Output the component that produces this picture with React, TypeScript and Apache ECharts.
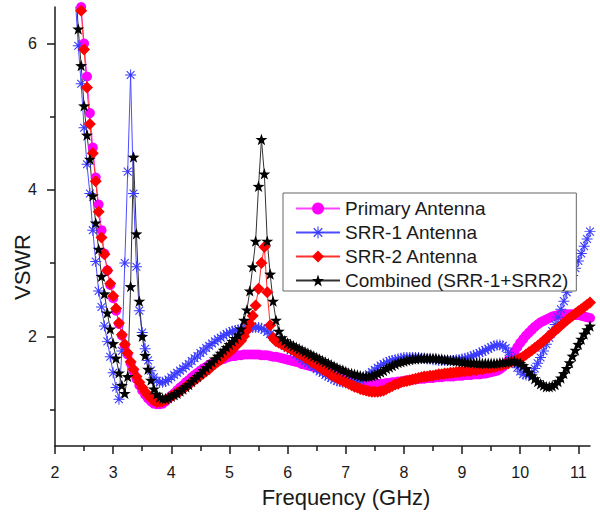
import React, { useEffect, useRef } from "react";
import * as echarts from "echarts";

const freq = [
  2.35, 2.4, 2.45, 2.5, 2.55, 2.6, 2.65, 2.7, 2.75, 2.8,
  2.85, 2.9, 2.95, 3, 3.05, 3.1, 3.15, 3.2, 3.25, 3.3,
  3.35, 3.4, 3.45, 3.5, 3.55, 3.6, 3.65, 3.7, 3.75, 3.8,
  3.85, 3.9, 3.95, 4, 4.05, 4.1, 4.15, 4.2, 4.25, 4.3,
  4.35, 4.4, 4.45, 4.5, 4.55, 4.6, 4.65, 4.7, 4.75, 4.8,
  4.85, 4.9, 4.95, 5, 5.05, 5.1, 5.15, 5.2, 5.25, 5.3,
  5.35, 5.4, 5.45, 5.5, 5.55, 5.6, 5.65, 5.7, 5.75, 5.8,
  5.85, 5.9, 5.95, 6, 6.05, 6.1, 6.15, 6.2, 6.25, 6.3,
  6.35, 6.4, 6.45, 6.5, 6.55, 6.6, 6.65, 6.7, 6.75, 6.8,
  6.85, 6.9, 6.95, 7, 7.05, 7.1, 7.15, 7.2, 7.25, 7.3,
  7.35, 7.4, 7.45, 7.5, 7.55, 7.6, 7.65, 7.7, 7.75, 7.8,
  7.85, 7.9, 7.95, 8, 8.05, 8.1, 8.15, 8.2, 8.25, 8.3,
  8.35, 8.4, 8.45, 8.5, 8.55, 8.6, 8.65, 8.7, 8.75, 8.8,
  8.85, 8.9, 8.95, 9, 9.05, 9.1, 9.15, 9.2, 9.25, 9.3,
  9.35, 9.4, 9.45, 9.5, 9.55, 9.6, 9.65, 9.7, 9.75, 9.8,
  9.85, 9.9, 9.95, 10, 10.05, 10.1, 10.15, 10.2, 10.25, 10.3,
  10.35, 10.4, 10.45, 10.5, 10.55, 10.6, 10.65, 10.7, 10.75, 10.8,
  10.85, 10.9, 10.95, 11, 11.05, 11.1, 11.15, 11.2,
];

const primaryAntenna = [
  7.5, 7.0, 6.5, 6.0, 5.55, 5.05, 4.58, 4.17, 3.8, 3.45,
  3.13, 2.9, 2.7, 2.52, 2.35, 2.17, 2.01, 1.87, 1.75, 1.63,
  1.52, 1.42, 1.33, 1.26, 1.2, 1.15, 1.11, 1.08, 1.07, 1.07,
  1.08, 1.11, 1.15, 1.19, 1.22, 1.26, 1.3, 1.33, 1.37, 1.4,
  1.44, 1.47, 1.5, 1.53, 1.56, 1.58, 1.61, 1.63, 1.65, 1.67,
  1.68, 1.69, 1.71, 1.72, 1.73, 1.73, 1.74, 1.74, 1.75, 1.75,
  1.75, 1.75, 1.75, 1.75, 1.74, 1.74, 1.74, 1.73, 1.72, 1.72,
  1.71, 1.7, 1.69, 1.68, 1.67, 1.66, 1.65, 1.64, 1.62, 1.61,
  1.6, 1.59, 1.58, 1.57, 1.56, 1.55, 1.54, 1.52, 1.51, 1.5,
  1.49, 1.47, 1.46, 1.45, 1.44, 1.42, 1.41, 1.4, 1.39, 1.38,
  1.37, 1.36, 1.36, 1.35, 1.35, 1.35, 1.35, 1.36, 1.36, 1.37,
  1.37, 1.38, 1.38, 1.39, 1.4, 1.4, 1.41, 1.41, 1.42, 1.42,
  1.42, 1.43, 1.43, 1.43, 1.44, 1.44, 1.44, 1.45, 1.45, 1.45,
  1.45, 1.46, 1.46, 1.46, 1.47, 1.47, 1.47, 1.48, 1.48, 1.48,
  1.49, 1.49, 1.5, 1.51, 1.52, 1.53, 1.55, 1.58, 1.62, 1.67,
  1.73, 1.79, 1.85, 1.91, 1.96, 2.01, 2.05, 2.09, 2.13, 2.16,
  2.19, 2.21, 2.23, 2.25, 2.27, 2.28, 2.29, 2.3, 2.3, 2.3,
  2.3, 2.3, 2.29, 2.29, 2.28, 2.27, 2.26, 2.25,
];

const srr1Antenna = [
  6.6, 5.97, 5.45, 4.85, 4.35, 3.95, 3.45, 3.02, 2.62, 2.4,
  2.14, 1.93, 1.72, 1.5, 1.3, 1.14, 1.8, 3.0, 4.25, 5.57,
  3.95, 2.95, 2.35, 2.05, 1.83, 1.67, 1.53, 1.44, 1.39, 1.37,
  1.37, 1.38, 1.41, 1.44, 1.47, 1.5, 1.53, 1.56, 1.59, 1.62,
  1.66, 1.7, 1.73, 1.77, 1.8, 1.84, 1.87, 1.9, 1.93, 1.96,
  1.98, 2.01, 2.03, 2.05, 2.07, 2.08, 2.09, 2.1, 2.11, 2.12,
  2.12, 2.12, 2.12, 2.12, 2.11, 2.09, 2.06, 2.03, 1.99, 1.96,
  1.93, 1.9, 1.87, 1.84, 1.81, 1.78, 1.75, 1.72, 1.69, 1.66,
  1.63, 1.61, 1.58, 1.55, 1.52, 1.5, 1.47, 1.45, 1.43, 1.41,
  1.39, 1.38, 1.37, 1.36, 1.36, 1.36, 1.37, 1.38, 1.4, 1.42,
  1.45, 1.48, 1.51, 1.54, 1.57, 1.6, 1.62, 1.64, 1.66, 1.67,
  1.68, 1.69, 1.7, 1.71, 1.71, 1.71, 1.71, 1.71, 1.71, 1.7,
  1.7, 1.69, 1.69, 1.68, 1.68, 1.67, 1.67, 1.67, 1.67, 1.67,
  1.67, 1.68, 1.68, 1.69, 1.7, 1.71, 1.72, 1.74, 1.75, 1.77,
  1.79, 1.81, 1.83, 1.85, 1.87, 1.88, 1.88, 1.87, 1.84, 1.78,
  1.71, 1.64, 1.57, 1.52, 1.48, 1.47, 1.47, 1.5, 1.56, 1.63,
  1.71, 1.8, 1.89, 1.98, 2.07, 2.16, 2.26, 2.37, 2.48, 2.6,
  2.72, 2.83, 2.93, 3.03, 3.13, 3.23, 3.33, 3.43,
];

const srr2Antenna = [
  7.4, 6.9, 6.45, 5.92, 5.4, 4.9, 4.5, 4.12, 3.7, 3.35,
  3.12, 2.9, 2.72, 2.55, 2.38, 2.18, 2.02, 1.89, 1.77, 1.65,
  1.55, 1.45, 1.37, 1.3, 1.24, 1.19, 1.15, 1.12, 1.1, 1.1,
  1.11, 1.13, 1.15, 1.18, 1.2, 1.23, 1.25, 1.28, 1.31, 1.34,
  1.37, 1.4, 1.43, 1.46, 1.49, 1.52, 1.55, 1.59, 1.62, 1.65,
  1.68, 1.72, 1.75, 1.78, 1.82, 1.86, 1.9, 1.94, 2.0, 2.08,
  2.17, 2.28, 2.42, 2.65, 3.0, 3.22, 2.6, 2.15, 1.98, 1.93,
  1.91, 1.89, 1.87, 1.85, 1.83, 1.81, 1.78, 1.76, 1.74, 1.71,
  1.69, 1.66, 1.63, 1.61, 1.58, 1.55, 1.53, 1.5, 1.47, 1.45,
  1.43, 1.41, 1.39, 1.37, 1.35, 1.33, 1.31, 1.3, 1.28, 1.27,
  1.26, 1.25, 1.24, 1.24, 1.24, 1.25, 1.26, 1.28, 1.3, 1.32,
  1.34, 1.35, 1.37, 1.38, 1.39, 1.4, 1.41, 1.42, 1.43, 1.44,
  1.45, 1.45, 1.46, 1.46, 1.47, 1.48, 1.48, 1.49, 1.49, 1.5,
  1.5, 1.51, 1.51, 1.52, 1.52, 1.53, 1.53, 1.54, 1.54, 1.55,
  1.55, 1.56, 1.57, 1.57, 1.58, 1.59, 1.6, 1.61, 1.62, 1.63,
  1.65, 1.66, 1.68, 1.7, 1.72, 1.75, 1.78, 1.81, 1.84, 1.87,
  1.9, 1.94, 1.97, 2.01, 2.04, 2.08, 2.11, 2.15, 2.18, 2.22,
  2.25, 2.28, 2.31, 2.34, 2.37, 2.4, 2.43, 2.46,
];

const combined = [
  6.9, 6.2, 5.7, 5.15, 4.75, 4.42, 3.92, 3.55, 3.19, 2.82,
  2.58, 2.32, 2.1, 1.9, 1.7, 1.5, 1.33, 1.22, 1.45, 2.68,
  4.45, 3.4, 2.48, 2.0, 1.74, 1.55, 1.4, 1.28, 1.21, 1.17,
  1.15, 1.15, 1.16, 1.18, 1.2, 1.22, 1.25, 1.28, 1.31, 1.34,
  1.38, 1.42, 1.45, 1.49, 1.53, 1.57, 1.61, 1.65, 1.69, 1.73,
  1.77, 1.81, 1.85, 1.89, 1.93, 1.97, 2.02, 2.1, 2.22, 2.36,
  2.62, 2.95, 3.3, 4.05, 4.69, 4.22, 3.3, 2.85, 2.48, 2.22,
  2.07, 1.98, 1.94, 1.91, 1.89, 1.87, 1.85, 1.83, 1.81, 1.79,
  1.77, 1.75, 1.73, 1.71, 1.69, 1.67, 1.65, 1.63, 1.61, 1.59,
  1.57, 1.55, 1.54, 1.52, 1.5, 1.49, 1.48, 1.47, 1.46, 1.45,
  1.45, 1.45, 1.46, 1.47, 1.49, 1.51, 1.53, 1.56, 1.58, 1.6,
  1.62, 1.64, 1.65, 1.66, 1.67, 1.68, 1.69, 1.69, 1.7, 1.7,
  1.7, 1.7, 1.7, 1.7, 1.7, 1.69, 1.69, 1.68, 1.68, 1.67,
  1.67, 1.66, 1.66, 1.65, 1.65, 1.64, 1.64, 1.64, 1.63, 1.63,
  1.63, 1.63, 1.63, 1.63, 1.63, 1.63, 1.64, 1.64, 1.65, 1.65,
  1.66, 1.66, 1.65, 1.63, 1.6, 1.56, 1.51, 1.46, 1.42, 1.38,
  1.35, 1.33, 1.31, 1.31, 1.32, 1.34, 1.38, 1.43, 1.49, 1.56,
  1.64, 1.73, 1.81, 1.89, 1.96, 2.03, 2.09, 2.14,
];

const seriesNames = [
  "Primary Antenna",
  "SRR-1 Antenna",
  "SRR-2 Antenna",
  "Combined (SRR-1+SRR2)",
];

const xTicks = [2, 3, 4, 5, 6, 7, 8, 9, 10, 11];
const xMinorTicks = [2.5, 3.5, 4.5, 5.5, 6.5, 7.5, 8.5, 9.5, 10.5];
const yTicks = [2, 4, 6];
const yMinorTicks = [1, 3, 5];

const xTitle = "Frequency (GHz)";
const yTitle = "VSWR";

const FONT = 'Arial, "Liberation Sans", sans-serif';
const AXIS_COLOR = "#1a1a1a";

const starSymbol =
  "path://M10,0 L12.35,6.76 L19.51,6.91 L13.8,11.24 L15.88,18.09 L10,14 L4.12,18.09 L6.2,11.24 L0.49,6.91 L7.65,6.76 Z";
const asteriskSymbol =
  "path://M0,9.1 L20,9.1 L20,10.9 L0,10.9 Z M9.1,0 L10.9,0 L10.9,20 L9.1,20 Z M2.2,16.4 L16.4,2.2 L17.8,3.6 L3.6,17.8 Z M3.6,2.2 L17.8,16.4 L16.4,17.8 L2.2,3.6 Z";

function makeSeries(
  name: string,
  values: number[],
  color: string,
  lineColor: string,
  symbol: string,
  size: number
) {
  return {
    name,
    type: "line",
    data: freq.map((f, i) => [f, values[i]]),
    symbol,
    symbolSize: size,
    symbolKeepAspect: true,
    showSymbol: true,
    clip: true,
    lineStyle: { color: lineColor, width: 1 },
    itemStyle: { color, borderWidth: 0 },
    emphasis: { disabled: true },
  };
}

export default function App() {
  const ref = useRef<HTMLDivElement>(null);

  useEffect(() => {
    if (!ref.current) return;
    const chart = echarts.init(ref.current, null, { renderer: "svg" });
    const axisLineStyle = { color: AXIS_COLOR, width: 1.5 };
    chart.setOption({
      animation: false,
      backgroundColor: "#ffffff",
      grid: { left: 55, right: 10, top: 7, bottom: 68 },
      legend: {
        orient: "vertical",
        left: 283,
        top: 193,
        data: seriesNames,
        itemWidth: 44,
        itemHeight: 15,
        itemGap: 5,
        padding: [6, 8, 1, 12],
        borderColor: "#666",
        borderWidth: 1,
        backgroundColor: "#fff",
        textStyle: {
          fontFamily: FONT,
          fontSize: 19,
          lineHeight: 19,
          color: "#1a1a1a",
        },
      },
      xAxis: [
        {
          type: "value",
          min: 2,
          max: 11.2,
          position: "bottom",
          axisLine: { show: true, onZero: false, lineStyle: axisLineStyle },
          axisTick: {
            show: true,
            length: 8,
            customValues: xTicks,
            lineStyle: axisLineStyle,
          },
          axisLabel: {
            customValues: xTicks,
            margin: 18,
            fontSize: 16,
            fontFamily: FONT,
            color: "#1a1a1a",
          },
          splitLine: { show: false },
        },
        {
          type: "value",
          min: 2,
          max: 11.2,
          position: "bottom",
          axisLine: { show: false, onZero: false },
          axisTick: {
            show: true,
            length: 5,
            customValues: xMinorTicks,
            lineStyle: axisLineStyle,
          },
          axisLabel: { show: false },
          splitLine: { show: false },
        },
      ],
      yAxis: [
        {
          type: "value",
          min: 0.5,
          max: 6.5,
          position: "left",
          axisLine: { show: true, onZero: false, lineStyle: axisLineStyle },
          axisTick: {
            show: true,
            length: 8,
            customValues: yTicks,
            lineStyle: axisLineStyle,
          },
          axisLabel: {
            customValues: yTicks,
            margin: 18,
            fontSize: 16,
            fontFamily: FONT,
            color: "#1a1a1a",
          },
          splitLine: { show: false },
        },
        {
          type: "value",
          min: 0.5,
          max: 6.5,
          position: "left",
          axisLine: { show: false, onZero: false },
          axisTick: {
            show: true,
            length: 5,
            customValues: yMinorTicks,
            lineStyle: axisLineStyle,
          },
          axisLabel: { show: false },
          splitLine: { show: false },
        },
      ],
      graphic: [
        {
          type: "text",
          x: 346,
          y: 497,
          style: {
            text: xTitle,
            font: `22px ${FONT}`,
            fill: "#1a1a1a",
            align: "center",
            verticalAlign: "middle",
          },
        },
        {
          type: "text",
          x: 22,
          y: 267,
          rotation: Math.PI / 2,
          style: {
            text: yTitle,
            font: `22px ${FONT}`,
            fill: "#1a1a1a",
            align: "center",
            verticalAlign: "middle",
          },
        },
      ],
      series: [
        makeSeries(seriesNames[0], primaryAntenna, "#ff00ff", "#ff40ff", "circle", 10),
        makeSeries(seriesNames[1], srr1Antenna, "#3b3bff", "#4d4dff", asteriskSymbol, 11),
        makeSeries(seriesNames[2], srr2Antenna, "#ff0000", "#ff3030", "diamond", 12),
        makeSeries(seriesNames[3], combined, "#000000", "#333333", starSymbol, 12),
      ],
    });
    return () => chart.dispose();
  }, []);

  return (
    <div
      ref={ref}
      style={{ position: "absolute", left: 0, top: 0, width: 600, height: 514 }}
    />
  );
}
